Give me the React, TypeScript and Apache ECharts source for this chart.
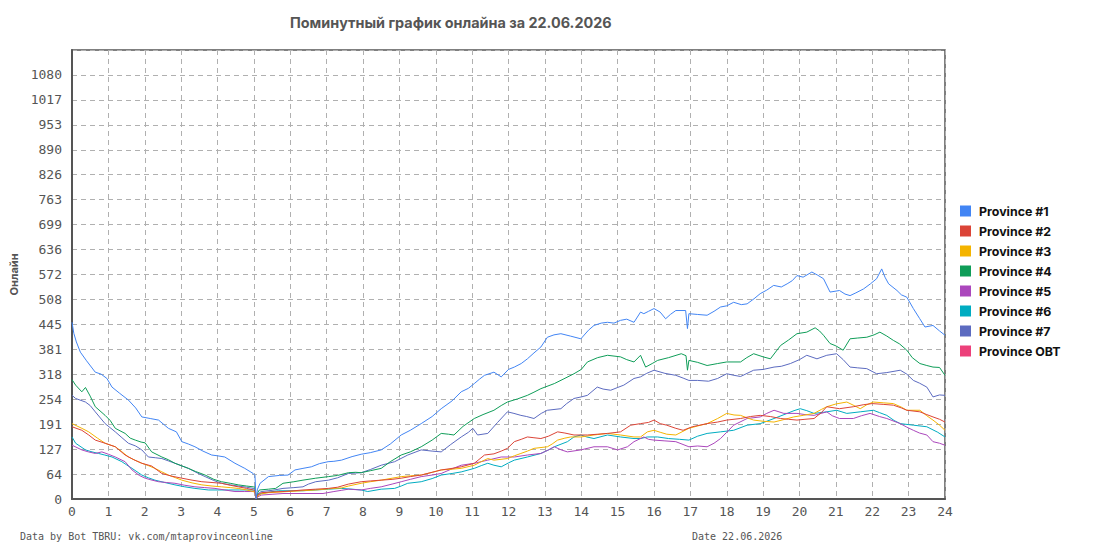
import React, { useEffect, useRef } from "react";
import * as echarts from "echarts";

const TITLE = "Поминутный график онлайна за 22.06.2026";
const FOOT_LEFT = "Data by Bot TBRU: vk.com/mtaprovinceonline";
const FOOT_RIGHT = "Date 22.06.2026";
const Y_NAME = "Онлайн";

const SERIES_NAMES = [
  "Province #1",
  "Province #2",
  "Province #3",
  "Province #4",
  "Province #5",
  "Province #6",
  "Province #7",
  "Province OBT",
];
const COLORS = ["#4285f4", "#db4437", "#f4b400", "#0f9d58", "#ab47bc", "#00acc1", "#5c6bc0", "#ec407a"];

const Y_LABELS = ["0", "64", "127", "191", "254", "318", "381", "445", "508", "572", "636", "699", "763", "826", "890", "953", "1017", "1080", ""];
const X_LABELS = ["0","1","2","3","4","5","6","7","8","9","10","11","12","13","14","15","16","17","18","19","20","21","22","23","24"];

const P1 = [[0,450],[0.05,422],[0.12,400],[0.23,374],[0.4,352],[0.64,323],[0.8,318],[0.96,307],[1.1,285],[1.3,270],[1.55,252],[1.75,232],[1.92,209],[2.15,205],[2.38,201],[2.65,180],[2.87,171],[3.02,146],[3.2,140],[3.38,133],[3.6,122],[3.84,112],[4.0,110],[4.2,107],[4.48,91],[4.75,78],[4.98,65],[5.03,60],[5.06,0],[5.1,25],[5.17,40],[5.4,57],[5.7,60],[5.94,61],[6.13,74],[6.35,78],[6.58,82],[6.8,90],[7.04,95],[7.2,96],[7.41,99],[7.7,108],[7.95,114],[8.2,118],[8.5,125],[8.75,140],[9.05,163],[9.3,175],[9.6,192],[9.9,210],[10.15,230],[10.45,250],[10.7,273],[10.9,282],[11.06,294],[11.2,305],[11.34,315],[11.6,323],[11.8,311],[12.0,330],[12.16,336],[12.35,345],[12.52,357],[12.7,372],[12.89,387],[13.07,412],[13.25,418],[13.44,421],[13.7,415],[13.99,408],[14.2,430],[14.35,442],[14.55,448],[14.72,450],[14.9,448],[15.08,455],[15.25,458],[15.45,450],[15.63,476],[15.72,472],[15.85,478],[16.0,485],[16.17,476],[16.32,459],[16.45,470],[16.6,480],[16.87,480],[16.92,434],[16.96,472],[17.2,470],[17.46,468],[17.65,478],[17.83,489],[18.0,492],[18.19,501],[18.4,495],[18.56,497],[18.75,510],[18.92,523],[19.1,532],[19.29,544],[19.5,540],[19.66,548],[19.8,556],[19.93,569],[20.1,565],[20.34,578],[20.5,570],[20.66,561],[20.84,527],[21.1,531],[21.25,522],[21.39,518],[21.55,525],[21.76,535],[21.95,548],[22.12,561],[22.26,586],[22.35,565],[22.45,548],[22.68,531],[22.8,520],[22.95,514],[23.13,485],[23.3,460],[23.45,438],[23.67,442],[23.85,428],[24,417]];

const P2 = [[0,184],[0.27,175],[0.46,163],[0.64,150],[0.91,142],[1.19,133],[1.46,112],[1.7,100],[1.92,91],[2.19,84],[2.47,65],[2.75,58],[3.02,53],[3.3,48],[3.57,44],[3.85,42],[4.11,40],[4.35,35],[4.57,31],[4.8,27],[4.98,23],[5.03,22],[5.06,0],[5.1,10],[5.2,16],[5.5,18],[5.8,19],[6.1,21],[6.35,23],[6.7,25],[7.05,27],[7.3,30],[7.6,38],[7.95,44],[8.2,46],[8.5,48],[8.8,50],[9.05,53],[9.3,57],[9.6,61],[9.9,68],[10.15,74],[10.45,78],[10.7,82],[11.06,91],[11.34,112],[11.6,115],[11.8,122],[11.97,129],[12.16,146],[12.35,152],[12.52,158],[12.7,156],[12.89,154],[13.1,160],[13.35,171],[13.55,168],[13.8,163],[14.17,163],[14.45,165],[14.72,167],[15.08,171],[15.36,188],[15.63,192],[15.85,195],[16.0,201],[16.17,192],[16.35,188],[16.6,180],[16.8,175],[17.05,184],[17.46,192],[17.75,196],[18.0,201],[18.38,205],[18.65,210],[18.92,213],[19.2,210],[19.48,205],[19.7,203],[19.93,201],[20.15,203],[20.4,205],[20.6,220],[20.75,235],[21.1,230],[21.48,235],[21.75,240],[22.0,243],[22.3,241],[22.58,239],[22.8,232],[22.95,226],[23.31,222],[23.5,215],[23.67,209],[23.85,203],[24,196]];

const P3 = [[0,192],[0.27,180],[0.46,171],[0.7,155],[0.91,142],[1.19,133],[1.35,122],[1.55,107],[1.75,98],[1.92,91],[2.1,85],[2.28,78],[2.45,70],[2.65,61],[2.85,54],[3.02,48],[3.3,41],[3.57,36],[3.85,33],[4.11,31],[4.35,29],[4.57,27],[4.8,23],[4.98,19],[5.03,18],[5.06,0],[5.1,8],[5.2,13],[5.4,16],[5.94,19],[6.3,21],[6.7,23],[7.2,27],[7.4,28],[7.6,33],[7.95,40],[8.2,44],[8.5,48],[8.8,53],[9.05,57],[9.3,59],[9.6,61],[9.9,68],[10.15,74],[10.45,76],[10.7,78],[11.06,86],[11.25,95],[11.43,103],[11.6,99],[11.97,103],[12.16,110],[12.34,116],[12.52,122],[12.7,129],[13.07,133],[13.2,140],[13.35,150],[13.55,155],[13.71,158],[13.99,158],[14.35,163],[14.72,167],[15.08,163],[15.45,158],[15.63,158],[15.82,171],[16.0,175],[16.17,170],[16.35,165],[16.6,163],[16.96,180],[17.2,186],[17.46,192],[17.75,205],[18.0,218],[18.2,214],[18.38,213],[18.55,207],[18.74,201],[19.0,198],[19.3,196],[19.6,203],[19.84,209],[20.1,213],[20.4,218],[20.6,228],[20.75,235],[21.0,242],[21.3,247],[21.5,238],[21.67,230],[21.85,240],[22.03,247],[22.3,245],[22.58,243],[22.8,234],[22.95,226],[23.31,226],[23.5,212],[23.67,201],[23.85,188],[24,175]];

const P4 = [[0,304],[0.1,290],[0.27,273],[0.37,284],[0.5,262],[0.64,235],[0.91,213],[1.05,200],[1.19,180],[1.46,167],[1.6,155],[1.74,150],[1.9,145],[2.01,143],[2.19,120],[2.47,107],[2.65,100],[2.83,91],[3.0,85],[3.2,78],[3.4,70],[3.66,61],[3.9,50],[4.11,44],[4.35,40],[4.57,36],[4.8,33],[4.98,31],[5.03,30],[5.06,0],[5.1,15],[5.15,23],[5.4,25],[5.6,27],[5.8,40],[6.1,44],[6.35,48],[6.7,53],[7.05,57],[7.3,60],[7.6,67],[7.8,68],[7.95,67],[8.2,72],[8.5,78],[8.75,95],[9.05,112],[9.3,120],[9.6,133],[9.9,150],[10.15,167],[10.35,165],[10.5,163],[10.75,185],[11.06,205],[11.3,215],[11.6,226],[11.8,238],[11.97,247],[12.25,255],[12.52,264],[12.7,272],[12.89,281],[13.26,294],[13.5,305],[13.8,319],[14.0,330],[14.17,349],[14.45,360],[14.72,366],[15.08,362],[15.25,355],[15.45,349],[15.63,366],[15.77,336],[15.95,345],[16.1,353],[16.4,360],[16.75,370],[16.88,365],[16.92,328],[16.96,353],[17.2,348],[17.46,340],[17.75,345],[18.0,349],[18.38,349],[18.55,360],[18.74,370],[19.0,362],[19.2,357],[19.48,391],[19.7,405],[19.93,421],[20.2,425],[20.43,436],[20.55,428],[20.66,417],[20.84,396],[21.0,390],[21.2,379],[21.39,408],[21.6,410],[21.85,412],[22.05,418],[22.21,425],[22.4,415],[22.58,404],[22.75,395],[22.95,379],[23.1,360],[23.31,345],[23.5,340],[23.67,336],[23.85,335],[24,315]];

const P5 = [[0,137],[0.27,125],[0.45,120],[0.64,116],[0.82,120],[1.0,114],[1.19,107],[1.46,95],[1.65,74],[1.85,60],[2.01,53],[2.2,48],[2.38,44],[2.6,42],[2.83,40],[3.1,35],[3.38,31],[3.65,29],[3.93,27],[4.2,23],[4.48,19],[4.75,19],[4.98,19],[5.03,18],[5.06,0],[5.1,5],[5.2,10],[5.5,12],[5.8,14],[6.35,14],[6.9,14],[7.2,19],[7.4,22],[7.6,25],[7.95,23],[8.2,27],[8.5,31],[8.8,38],[9.05,44],[9.3,50],[9.6,57],[9.9,61],[10.15,65],[10.4,75],[10.7,86],[11.06,91],[11.43,99],[11.8,107],[12.16,107],[12.52,112],[12.89,116],[13.1,125],[13.26,133],[13.45,125],[13.62,120],[13.99,125],[14.35,133],[14.72,133],[15.0,125],[15.27,133],[15.45,146],[15.72,158],[15.85,152],[16.0,150],[16.3,148],[16.6,146],[16.96,133],[17.2,135],[17.46,133],[17.65,142],[17.83,154],[18.0,170],[18.19,188],[18.56,205],[18.92,209],[19.1,218],[19.3,226],[19.57,218],[19.93,218],[20.15,215],[20.4,213],[20.75,222],[20.9,212],[21.1,205],[21.48,205],[21.7,212],[21.94,218],[22.2,210],[22.4,205],[22.77,192],[22.95,183],[23.13,175],[23.3,168],[23.5,163],[23.67,146],[23.85,142],[24,137]];

const P6 = [[0,158],[0.1,142],[0.37,125],[0.55,120],[0.73,116],[0.9,112],[1.1,107],[1.37,95],[1.5,87],[1.65,78],[1.92,61],[2.1,54],[2.28,48],[2.55,42],[2.83,36],[3.1,31],[3.38,27],[3.75,23],[4.3,23],[4.6,23],[4.98,23],[5.03,22],[5.06,0],[5.1,8],[5.2,14],[5.45,18],[5.67,21],[6.35,21],[7.05,25],[7.4,27],[7.7,25],[7.95,23],[8.13,19],[8.5,25],[8.87,27],[9.05,33],[9.23,40],[9.6,44],[9.9,52],[10.15,61],[10.45,65],[10.7,69],[11.06,78],[11.25,85],[11.43,91],[11.6,86],[11.8,82],[12.0,92],[12.16,99],[12.52,107],[12.89,116],[13.1,125],[13.26,133],[13.62,146],[13.8,158],[13.99,163],[14.15,158],[14.35,154],[14.72,163],[15.08,158],[15.45,154],[15.63,154],[15.82,158],[16.1,158],[16.4,154],[16.7,152],[16.96,150],[17.2,160],[17.46,167],[17.83,171],[18.19,175],[18.56,188],[18.92,192],[19.1,198],[19.3,205],[19.66,218],[19.85,225],[20.02,230],[20.2,225],[20.4,218],[20.75,222],[21.02,226],[21.3,218],[21.67,222],[22.03,226],[22.2,220],[22.4,213],[22.6,200],[22.77,192],[23.13,188],[23.5,184],[23.8,170],[24,158]];

const P7 = [[0,264],[0.1,256],[0.37,247],[0.5,238],[0.64,222],[0.91,192],[1.19,171],[1.35,158],[1.55,142],[1.75,135],[1.92,125],[2.1,107],[2.3,105],[2.47,103],[2.65,97],[2.83,91],[3.0,85],[3.2,78],[3.45,66],[3.66,57],[3.9,47],[4.11,40],[4.35,36],[4.57,33],[4.8,30],[4.98,27],[5.03,26],[5.06,0],[5.1,12],[5.2,19],[5.5,22],[5.8,27],[6.1,29],[6.35,31],[6.5,38],[6.7,44],[7.05,48],[7.3,54],[7.6,65],[7.95,67],[8.2,75],[8.5,86],[8.87,95],[9.23,112],[9.6,125],[9.9,122],[10.15,120],[10.4,138],[10.7,158],[10.9,170],[11.02,180],[11.15,163],[11.43,167],[11.7,195],[11.97,222],[12.15,218],[12.34,213],[12.5,210],[12.7,205],[12.9,218],[13.07,226],[13.44,230],[13.6,243],[13.8,256],[14.0,260],[14.17,264],[14.44,285],[14.6,280],[14.81,277],[15.0,284],[15.17,290],[15.45,307],[15.63,311],[15.8,320],[16.0,328],[16.3,320],[16.6,315],[16.8,308],[16.96,302],[17.2,302],[17.5,300],[17.75,307],[18.0,319],[18.2,315],[18.38,312],[18.74,328],[19.0,330],[19.3,336],[19.5,338],[19.75,345],[20.0,355],[20.2,366],[20.48,357],[20.75,366],[21.02,370],[21.2,355],[21.39,336],[21.6,334],[21.85,332],[22.12,319],[22.4,322],[22.77,328],[22.95,318],[23.13,302],[23.3,295],[23.5,285],[23.67,260],[23.85,265],[24,264]];

const POBT: number[][] = [];

const SERIES_DATA = [P1, P2, P3, P4, P5, P6, P7, POBT];

const Y_STEP = 1080 / 17;

export default function App() {
  const ref = useRef<HTMLDivElement>(null);
  useEffect(() => {
    if (!ref.current) return;
    const chart = echarts.init(ref.current, null, { renderer: "svg" });
    const mono = "DejaVu Sans Mono";
    chart.setOption({
      animation: false,
      backgroundColor: "#ffffff",
      title: {
        text: TITLE,
        left: 285,
        top: 10,
        textStyle: { fontFamily: "Inter", fontSize: 14.4, fontWeight: "bold", color: "#555555" },
      },
      legend: {
        orient: "vertical",
        left: 955,
        top: 200,
        itemWidth: 11,
        itemHeight: 11,
        itemGap: 8,
        icon: "rect",
        data: SERIES_NAMES,
        textStyle: { fontFamily: "Inter", fontSize: 12.4, fontWeight: "bold", color: "#111111", padding: [0, 0, 0, 3] },
      },
      grid: {
        left: 70,
        right: 150,
        top: 50,
        bottom: 51,
        show: true,
        borderColor: "#555555",
        borderWidth: 1.5,
        backgroundColor: "transparent",
      },
      xAxis: {
        type: "value",
        min: 0,
        max: 24,
        interval: 1,
        axisLine: { show: true, lineStyle: { color: "#555555", width: 2 } },
        axisTick: { show: false },
        axisLabel: {
          fontFamily: mono,
          fontSize: 13,
          color: "#555555",
          margin: 6,
          formatter: (v: number) => X_LABELS[Math.round(v)] ?? "",
        },
        splitLine: { show: true, lineStyle: { color: "#b0b0b0", type: [5, 4], width: 1 } },
      },
      yAxis: {
        type: "value",
        min: 0,
        max: Y_STEP * 18,
        interval: Y_STEP,
        name: Y_NAME,
        nameLocation: "middle",
        nameRotate: 90,
        nameGap: 53,
        nameTextStyle: { fontFamily: "Inter", fontSize: 11, fontWeight: "bold", color: "#555555" },
        axisLine: { show: true, lineStyle: { color: "#555555", width: 2 } },
        axisTick: { show: false },
        axisLabel: {
          fontFamily: mono,
          fontSize: 13,
          color: "#555555",
          margin: 10,
          showMaxLabel: false,
          formatter: (v: number) => Y_LABELS[Math.round(v / Y_STEP)] ?? "",
        },
        splitLine: { show: true, lineStyle: { color: "#b0b0b0", type: [5, 4], width: 1 } },
      },
      graphic: [
        {
          type: "text",
          left: 20,
          top: 531,
          style: { text: FOOT_LEFT, fontFamily: mono, fontSize: 10, fill: "#555555" },
        },
        {
          type: "text",
          left: 692,
          top: 531,
          style: { text: FOOT_RIGHT, fontFamily: mono, fontSize: 10, fill: "#555555" },
        },
      ],
      series: SERIES_NAMES.map((name, i) => ({
        name,
        type: "line",
        data: SERIES_DATA[i],
        showSymbol: false,
        symbol: "none",
        color: COLORS[i],
        lineStyle: { width: 1, color: COLORS[i] },
        z: 10 - i,
      })),
    });
    return () => chart.dispose();
  }, []);
  return <div ref={ref} style={{ position: "fixed", left: 0, top: 0, width: 1095, height: 550, background: "#fff" }} />;
}
